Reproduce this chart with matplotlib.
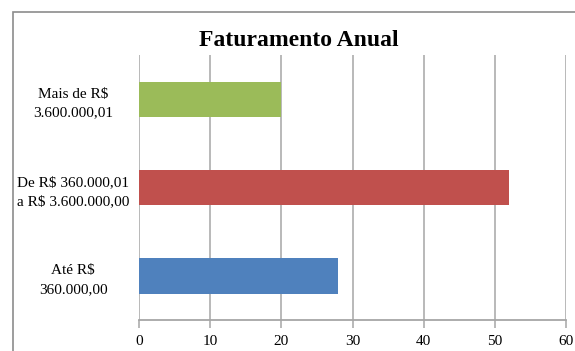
import matplotlib.pyplot as plt
from matplotlib.patches import Rectangle

# dados do gráfico
categorias = ["Até R$\n360.000,00", "De R$ 360.000,01\na R$ 3.600.000,00", "Mais de R$\n3.600.000,01"]
valores = [28, 52, 20]
cores = ["#4F81BD", "#C0504D", "#9BBB59"]
ticks_x = [0, 10, 20, 30, 40, 50, 60]

plt.rcParams['font.family'] = ['Liberation Serif', 'DejaVu Serif']

W, H = 575, 351
fig = plt.figure(figsize=(W / 100, H / 100), dpi=100)

# moldura da área do gráfico (continua além da borda direita/inferior)
fig.add_artist(Rectangle((13 / W, -0.1), 1.2, 1 - 12 / H + 0.1, transform=fig.transFigure,
                         fill=False, edgecolor="#8c8c8c", lw=1.2))

ax = fig.add_axes([139 / W, 1 - 320 / H, (566 - 139) / W, (320 - 55) / H])
ax.barh(range(len(valores)), valores, height=0.4, color=cores, zorder=3)

ax.set_xlim(0, 60)
ax.set_ylim(-0.5, 2.5)
ax.set_xticks(ticks_x)
ax.set_xticklabels([str(t) for t in ticks_x], fontsize=11)
ax.xaxis.grid(True, color="#a6a6a6", lw=1.1, zorder=0)
ax.tick_params(axis="x", length=6, width=1.1, color="#a6a6a6", pad=5)

ax.set_yticks(range(len(categorias)))
ax.set_yticklabels(categorias, fontsize=11, ha="center", multialignment="center",
                   linespacing=1.6)
ax.tick_params(axis="y", length=0, pad=47.5)

for s in ["top", "right", "left"]:
    ax.spines[s].set_visible(False)
ax.spines["bottom"].set_color("#a6a6a6")
ax.spines["bottom"].set_linewidth(1.3)

fig.text(299 / W, 1 - 41 / H, "Faturamento Anual", ha="center", va="center",
         fontsize=17, fontweight="bold")

fig.savefig("out.png", dpi=100)
